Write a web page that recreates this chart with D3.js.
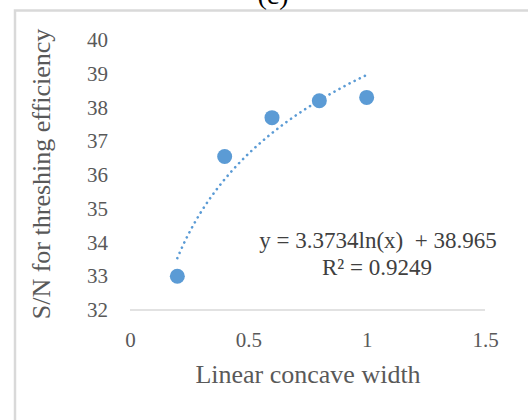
<!DOCTYPE html>
<html>
<head>
<meta charset="utf-8">
<script src="https://cdn.jsdelivr.net/npm/d3@7"></script>
<style>
body{margin:0;background:#fff;}
svg{display:block;font-family:"Liberation Serif","Times New Roman",serif;}
</style>
</head>
<body>
<div id="chart"></div>
<script>
// data
var widths = [0.2, 0.4, 0.6, 0.8, 1.0];
var snValues = [33.0, 36.55, 37.7, 38.2, 38.3];
var yTicks = [32, 33, 34, 35, 36, 37, 38, 39, 40];
var xTicks = [0, 0.5, 1, 1.5];
// log trendline coefficients as printed on the chart
var trendA = 3.3734, trendB = 38.965;
var eqLabel = "y = 3.3734ln(x)  + 38.965";
var r2Label = "R\u00b2 = 0.9249";

var W = 528, H = 420;
var margin = {top:40, right:43, bottom:110, left:130},
w = W - margin.left - margin.right,
h = H - margin.top - margin.bottom;

var svg = d3.select("#chart").append("svg")
  .attr("width", W).attr("height", H);

// outer frame (cut off on the right and bottom)
svg.append("rect")
  .attr("x", 15).attr("y", 10.5)
  .attr("width", W + 20).attr("height", H + 20)
  .attr("fill", "none").attr("stroke", "#d9d9d9").attr("stroke-width", 2.5);

// title, mostly above the visible area
svg.append("text")
  .attr("x", 273).attr("y", 4)
  .attr("text-anchor", "middle")
  .style("font-size", "28px").attr("fill", "#000")
  .text("(c)");

var g = svg.append("g")
  .attr("transform", `translate(${margin.left},${margin.top})`);

var x = d3.scaleLinear().domain([0, 1.5]).range([0, w]);
var y = d3.scaleLinear().domain([32, 40]).range([h, 0]);

// bottom axis line
g.append("line")
  .attr("x1", x(0)).attr("x2", x(1.5))
  .attr("y1", y(32)).attr("y2", y(32))
  .attr("stroke", "#d9d9d9").attr("stroke-width", 1.5);

var xAxis = g.append("g")
  .attr("transform", "translate(0," + h + ")")
  .call(d3.axisBottom(x).tickValues(xTicks).tickSize(0).tickPadding(22)
    .tickFormat(function(d){ return d3.format("")(d); }));
xAxis.select(".domain").remove();
xAxis.selectAll("text").style("font-size", "21px").attr("fill", "#595959")
  .style("font-family", "Liberation Serif");

var yAxis = g.append("g")
  .call(d3.axisLeft(y).tickValues(yTicks).tickSize(0).tickPadding(22));
yAxis.select(".domain").remove();
yAxis.selectAll("text").style("font-size", "21px").attr("fill", "#595959")
  .style("font-family", "Liberation Serif");

// trendline
var trendX = d3.range(0, 81).map(function(i){ return widths[0] + i * (widths[widths.length-1] - widths[0]) / 80; });
var line = d3.line()
  .x(function(d){ return x(d); })
  .y(function(d){ return y(trendA * Math.log(d) + trendB); });
g.append("path")
  .datum(trendX)
  .attr("d", line)
  .attr("fill", "none")
  .attr("stroke", "#5b9bd5")
  .attr("stroke-width", 2.6)
  .attr("stroke-linecap", "round")
  .attr("stroke-dasharray", "0.1,5.6");

// points
g.selectAll("circle.pt")
  .data(widths)
  .enter().append("circle")
  .attr("class", "pt")
  .attr("cx", function(d){ return x(d); })
  .attr("cy", function(d, i){ return y(snValues[i]); })
  .attr("r", 7.5)
  .attr("fill", "#5b9bd5");

// equation labels
g.append("text")
  .attr("x", 378 - margin.left).attr("y", 248 - margin.top)
  .attr("text-anchor", "middle")
  .style("font-size", "23px").attr("fill", "#404040")
  .style("white-space", "pre")
  .text(eqLabel);
g.append("text")
  .attr("x", 377 - margin.left).attr("y", 275 - margin.top)
  .attr("text-anchor", "middle")
  .style("font-size", "23px").attr("fill", "#404040")
  .text(r2Label);

// axis titles
svg.append("text")
  .attr("x", 308).attr("y", 383)
  .attr("text-anchor", "middle")
  .style("font-size", "26px").attr("fill", "#595959")
  .text("Linear concave width");
svg.append("text")
  .attr("transform", "translate(50,174) rotate(-90)")
  .attr("text-anchor", "middle")
  .style("font-size", "26px").attr("fill", "#595959")
  .text("S/N for threshing efficiency");
</script>
</body>
</html>
